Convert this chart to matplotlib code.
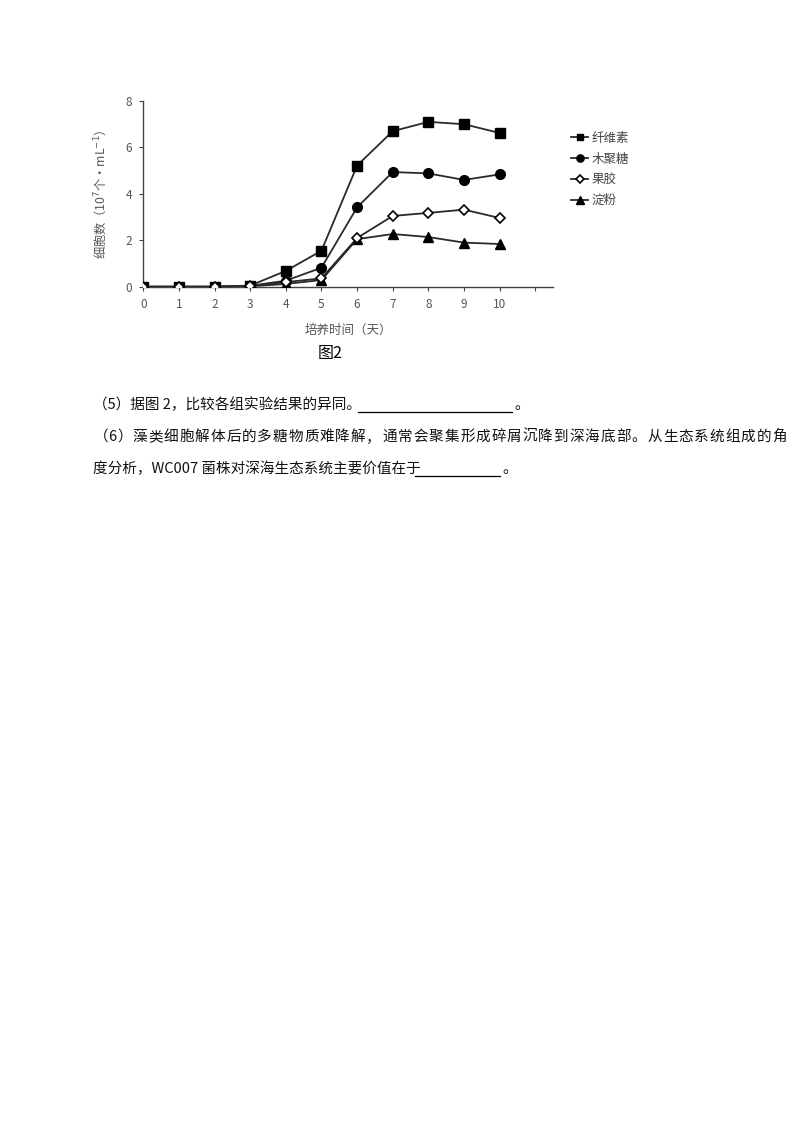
import matplotlib
matplotlib.use("Agg")
import matplotlib.pyplot as plt
from matplotlib.lines import Line2D

plt.rcParams['font.family'] = ['Noto Sans CJK SC', 'DejaVu Sans']

days = [0, 1, 2, 3, 4, 5, 6, 7, 8, 9, 10]
cellulose = [0, 0, 0, 0.05, 0.68, 1.55, 5.22, 6.7, 7.1, 7.0, 6.62]
xylan = [0, 0, 0, 0.04, 0.26, 0.82, 3.42, 4.94, 4.88, 4.6, 4.84]
pectin = [0, 0, 0, 0.03, 0.2, 0.36, 2.1, 3.05, 3.18, 3.32, 2.96]
starch = [0, 0, 0, 0.02, 0.12, 0.29, 2.05, 2.27, 2.14, 1.9, 1.84]
series_names = ['纤维素', '木聚糖', '果胶', '淀粉']
xticks = [0, 1, 2, 3, 4, 5, 6, 7, 8, 9, 10, 11]
xticklabels = ['0', '1', '2', '3', '4', '5', '6', '7', '8', '9', '10', '']
yticks = [0, 2, 4, 6, 8]

fig = plt.figure(figsize=(8, 11.32), dpi=100)
ax = fig.add_axes([0.179, 0.7467, 0.5125, 0.1641])

lc = '#2a2a2a'
ax.plot(days, cellulose, color=lc, lw=1.3, marker='s', ms=6.5, mfc='black', mec='black', label=series_names[0], zorder=4)
ax.plot(days, xylan, color=lc, lw=1.3, marker='o', ms=7, mfc='black', mec='black', label=series_names[1], zorder=4)
ax.plot(days, pectin, color=lc, lw=1.3, marker='D', ms=5.5, mfc='white', mec='black', mew=1.2, label=series_names[2], zorder=5)
ax.plot(days, starch, color=lc, lw=1.3, marker='^', ms=7, mfc='black', mec='black', label=series_names[3], zorder=4)

ax.set_xlim(0, 11.5)
ax.set_ylim(0, 8)
ax.set_xticks(xticks)
ax.set_xticklabels(xticklabels)
ax.set_yticks(yticks)
for s in ['top', 'right']:
    ax.spines[s].set_visible(False)
for s in ['left', 'bottom']:
    ax.spines[s].set_color('#444444')
    ax.spines[s].set_linewidth(1.0)
ax.tick_params(axis='both', colors='#444444', labelcolor='#555555', labelsize=8.5, length=3, width=0.8, pad=5)
ax.set_xlabel('培养时间（天）', fontsize=9, color='#555555', labelpad=9)
ax.set_ylabel('细胞数（10$^7$个·mL$^{-1}$）', fontsize=8.8, color='#555555', labelpad=12)

fig.legend(loc='upper left', bbox_to_anchor=(0.708, 0.888), frameon=False,
           fontsize=9, handlelength=1.3, handletextpad=0.3, labelspacing=0.62,
           labelcolor='#444444', borderaxespad=0, markerscale=0.75)

fig.text(0.413, 0.688, '图2', fontsize=11.5, ha='center', va='center', color='black')

fs = 10.5
tc = '#111111'
y1 = 1 - 405 / 1132
y2 = 1 - 437 / 1132
y3 = 1 - 469 / 1132
fig.text(93 / 800, y1, '（5）据图 2，比较各组实验结果的异同。', fontsize=fs, va='center', color=tc)
fig.add_artist(Line2D([358 / 800, 512 / 800], [y1 - 0.0065, y1 - 0.0065], color='black', lw=0.9))
fig.text(514 / 800, y1, '。', fontsize=fs, va='center', color=tc)

# justified second line
line2 = '（6）藻类细胞解体后的多糖物质难降解，通常会聚集形成碎屑沉降到深海底部。从生态系统组成的角'
widths = [0.5 if ord(c) < 128 else 1.0 for c in line2]
x_start, x_end = 93, 787
unit = (x_end - x_start) / sum(widths)
pos = x_start
for c, w in zip(line2, widths):
    fig.text((pos + w * unit / 2) / 800, y2, c, fontsize=fs, va='center', ha='center', color=tc)
    pos += w * unit

fig.text(93 / 800, y3, '度分析，WC007 菌株对深海生态系统主要价值在于', fontsize=fs, va='center', color=tc)
fig.add_artist(Line2D([415 / 800, 500 / 800], [y3 - 0.0065, y3 - 0.0065], color='black', lw=0.9))
fig.text(502 / 800, y3, '。', fontsize=fs, va='center', color=tc)

fig.savefig('out.png', dpi=100, facecolor='white')
